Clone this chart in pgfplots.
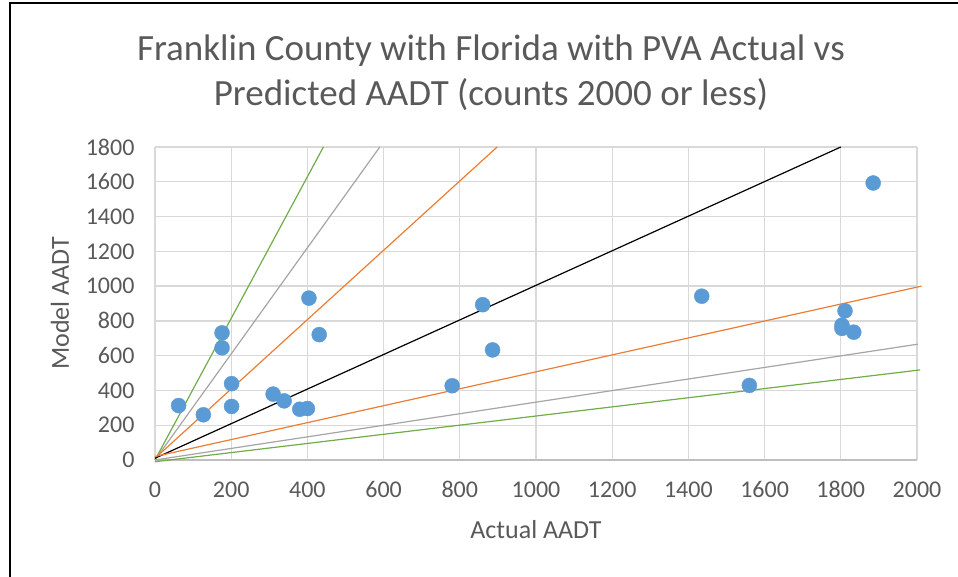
\documentclass[border=0pt]{standalone}
\usepackage{pgfplots}
\pgfplotsset{compat=1.18}
\usepackage{fontspec}
\setmainfont{Carlito}
\definecolor{txt}{HTML}{595959}
\definecolor{gridc}{HTML}{D9D9D9}
\definecolor{axc}{HTML}{BFBFBF}
\definecolor{blu}{HTML}{5B9BD5}
\definecolor{org}{HTML}{ED7D31}
\definecolor{gry}{HTML}{A5A5A5}
\definecolor{grn}{HTML}{70AD47}
\begin{document}
\begin{tikzpicture}
\useasboundingbox (0pt,0pt) rectangle (958pt,577pt);
\draw[line width=2pt] (10pt,0pt) -- (10pt,573.5pt) -- (958pt,573.5pt);
\node[align=center, text=txt, font=\fontsize{37}{45}\selectfont] at (491pt,504.5pt) {Franklin County with Florida with PVA Actual vs\\Predicted AADT (counts 2000 or less)};
\begin{axis}[
  at={(155pt,117pt)}, anchor=south west,
  scale only axis, width=762pt, height=313pt,
  xmin=0, xmax=2000, ymin=0, ymax=1800,
  xtick={0,200,...,2000}, ytick={0,200,...,1800},
  grid=major, major grid style={draw=gridc, line width=1.3pt},
  major tick length=0pt,
  axis x line=bottom, axis y line=left,
  x axis line style={draw=axc, line width=1.3pt, -},
  y axis line style={draw=none, -},
  ticklabel style={font=\fontsize{24}{24}\selectfont, text=txt},
  /pgf/number format/assume math mode=true,
  /pgf/number format/1000 sep={},
  xticklabel style={anchor=base, yshift=-37.5pt},
  yticklabel style={anchor=east, xshift=-17pt},
  xlabel={Actual AADT}, ylabel={Model AADT},
  label style={font=\fontsize{26}{26}\selectfont, text=txt},
  xlabel style={at={(axis description cs:0.5,-0.2236)}, anchor=center},
  ylabel style={at={(axis description cs:-0.1247,0.5)}, anchor=center},
  clip=false,
]
\addplot[grn, line width=1.2pt] coordinates {(0,0) (442,1800)};
\addplot[gry, line width=1.2pt] coordinates {(0,0) (590,1800)};
\addplot[org, line width=1.2pt] coordinates {(0,10) (898,1800)};
\addplot[black, line width=1.2pt] coordinates {(0,10) (1800,1800)};
\addplot[org, line width=1.2pt] coordinates {(0,20) (2012,1000)};
\addplot[gry, line width=1.2pt] coordinates {(0,0) (2002,666)};
\addplot[grn, line width=1.2pt] coordinates {(0,-10) (2008,518)};
\addplot[only marks, mark=*, mark size=7.5pt, mark options={fill=blu, draw=blu}] coordinates {
(62,313) (127,260) (176,731) (176,645) (201,439) (201,308) (310,379) (339,340)
(380,292) (400,296) (404,931) (431,721) (780,427) (860,893) (886,633)
(1435,942) (1560,429) (1885,1593) (1811,858) (1803,775) (1803,757) (1834,735)
};
\end{axis}
\end{tikzpicture}
\end{document}
